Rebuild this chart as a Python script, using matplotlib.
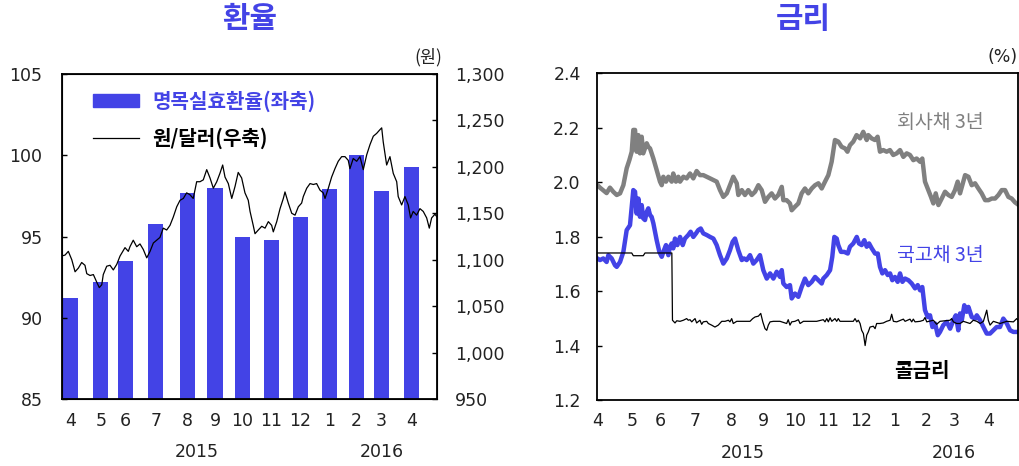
import numpy as np
import matplotlib
matplotlib.use("Agg")
import matplotlib.pyplot as plt
from matplotlib.patches import Patch
from matplotlib.lines import Line2D
from matplotlib.transforms import blended_transform_factory

plt.rcParams['font.family'] = ['Noto Sans CJK KR', 'DejaVu Sans']

BLUE = '#4343E6'
GREY = '#808080'
TXT = '#222222'
NUM_FONT = 'DejaVu Sans'

# x axis counts trading days, 0 = first trading day of Apr 2015
month_days = [22, 18, 22, 23, 20, 20, 21, 21, 21, 20, 18, 22]
month_labels = ['4', '5', '6', '7', '8', '9', '10', '11', '12', '1', '2', '3', '4']
years = ['2015', '2016']
year_day = [92, 226]

# nominal effective exchange rate, monthly (left axis)
neer = [91.2, 92.2, 93.5, 95.8, 97.7, 98.0, 95.0, 94.8, 96.2, 97.9, 100.0, 97.8, 99.3]

# KRW/USD, daily (right axis)
usd_day = [-6.4, -4.0, -1.6, 0.9, 3.3, 5.7, 8.1, 10.5, 11.8, 14.2,
           16.6, 19.0, 20.9, 22.7, 23.8, 26.3, 28.7, 31.1, 33.6, 36.0,
           37.2, 39.6, 42.0, 43.2, 45.6, 48.1, 50.5, 52.9, 55.4, 57.8,
           60.2, 62.6, 65.0, 67.4, 69.9, 72.3, 74.7, 77.2, 79.6, 82.0,
           84.4, 86.8, 89.2, 91.7, 94.1, 96.5, 99.0, 101.4, 103.8, 106.3,
           108.6, 110.6, 112.3, 114.7, 117.2, 119.6, 121.9, 124.4, 126.8, 129.2,
           130.5, 132.8, 134.1, 136.5, 139.0, 141.4, 143.8, 146.2, 147.4, 149.9,
           152.3, 154.7, 155.9, 158.3, 160.8, 163.2, 165.6, 168.0, 169.2, 171.7,
           174.1, 176.5, 178.9, 181.3, 183.7, 185.0, 187.4, 189.8, 192.2, 194.6,
           197.1, 199.5, 201.9, 203.1, 205.5, 208.0, 210.4, 212.8, 215.3, 217.7,
           220.1, 222.5, 224.9, 226.2, 227.3, 229.8, 232.2, 234.6, 237.1, 238.2,
           240.7, 243.1, 245.5, 247.2, 249.1, 251.6, 254.0, 256.4, 258.9, 260.8,
           262.5, 264.9, 266.4]
usd_krw = [1104, 1105, 1109, 1100, 1087, 1091, 1097, 1094, 1085, 1083,
           1084, 1076, 1070, 1073, 1084, 1093, 1094, 1089, 1095, 1104,
           1107, 1113, 1109, 1114, 1121, 1114, 1117, 1111, 1102, 1109,
           1118, 1121, 1124, 1134, 1132, 1137, 1146, 1157, 1164, 1166,
           1172, 1170, 1166, 1184, 1184, 1186, 1197, 1188, 1177, 1184,
           1193, 1202, 1189, 1182, 1166, 1179, 1194, 1188, 1172, 1164,
           1152, 1137, 1128, 1132, 1136, 1134, 1141, 1137, 1130, 1141,
           1155, 1166, 1173, 1161, 1150, 1148, 1157, 1161, 1168, 1177,
           1182, 1181, 1182, 1175, 1172, 1166, 1177, 1189, 1198, 1206,
           1211, 1211, 1207, 1198, 1209, 1206, 1211, 1197, 1213, 1224,
           1233, 1236, 1240, 1242, 1227, 1202, 1211, 1193, 1184, 1168,
           1159, 1168, 1159, 1145, 1152, 1148, 1155, 1152, 1145, 1134,
           1145, 1149, 1146]

# corporate bond 3y
corp_day = [0, 1.7, 3.8, 5.9, 8.0, 10.1, 12.3, 14.4, 16.5, 18.6,
            20.3, 21.8, 22.8, 23.9, 24.9, 26.0, 27.0, 28.1, 29.1, 30.2,
            31.3, 32.3, 33.4, 35.5, 37.6, 39.7, 40.8, 41.8, 43.5, 45.0,
            47.1, 48.1, 49.8, 51.3, 52.4, 54.5, 56.6, 58.7, 60.8, 62.9,
            65.0, 67.1, 69.3, 71.4, 73.5, 75.6, 77.7, 79.8, 82.0, 84.0,
            86.1, 88.3, 89.3, 91.5, 93.5, 95.6, 97.8, 99.9, 102.0, 104.1,
            106.2, 108.3, 110.4, 112.5, 114.6, 116.8, 117.8, 119.9, 122.0, 123.1,
            125.2, 127.3, 129.4, 131.5, 133.6, 135.8, 137.9, 140.0, 142.1, 144.2,
            146.3, 148.4, 150.5, 152.6, 154.7, 156.9, 158.4, 160.0, 162.1, 164.2,
            166.4, 168.4, 170.6, 171.6, 173.7, 175.8, 177.5, 179.0, 181.1, 183.2,
            185.3, 187.4, 189.6, 191.7, 193.8, 195.9, 198.0, 200.1, 202.2, 204.4,
            205.8, 207.5, 209.6, 211.3, 212.8, 214.3, 216.0, 218.1, 220.2, 222.3,
            224.4, 226.5, 228.2, 229.7, 231.8, 232.9, 235.0, 237.1, 239.2, 241.3,
            243.4, 245.6, 247.7, 249.8, 251.9, 254.0, 256.1, 258.2, 260.3, 262.4,
            264.5, 266.4]
corp = [1.990, 1.980, 1.970, 1.960, 1.980, 1.965, 1.953, 1.959, 1.989, 2.051,
        2.081, 2.112, 2.192, 2.192, 2.112, 2.173, 2.106, 2.167, 2.106, 2.124,
        2.143, 2.130, 2.124, 2.087, 2.044, 2.002, 1.989, 2.020, 2.002, 2.020,
        2.002, 2.032, 2.002, 2.020, 2.002, 2.020, 2.014, 2.032, 2.014, 2.041,
        2.026, 2.026, 2.020, 2.014, 2.008, 2.002, 1.971, 1.946, 1.959, 1.989,
        2.020, 1.996, 1.953, 1.971, 1.953, 1.971, 1.953, 1.965, 1.989, 1.971,
        1.928, 1.946, 1.959, 1.940, 1.953, 1.983, 1.934, 1.934, 1.922, 1.897,
        1.910, 1.922, 1.959, 1.977, 1.959, 1.977, 1.989, 1.996, 1.977, 2.002,
        2.026, 2.075, 2.155, 2.149, 2.130, 2.124, 2.112, 2.136, 2.149, 2.173,
        2.161, 2.185, 2.155, 2.173, 2.161, 2.155, 2.167, 2.112, 2.118, 2.112,
        2.118, 2.100, 2.106, 2.118, 2.093, 2.106, 2.100, 2.081, 2.087, 2.075,
        2.087, 2.002, 1.971, 1.946, 1.922, 1.959, 1.916, 1.940, 1.965, 1.953,
        1.946, 1.971, 2.002, 1.959, 2.002, 2.026, 2.020, 1.989, 1.996, 1.977,
        1.959, 1.934, 1.934, 1.940, 1.940, 1.953, 1.971, 1.971, 1.946, 1.940,
        1.926, 1.918]

# treasury bond 3y
ktb_day = [0, 1.7, 3.8, 5.9, 7.0, 9.1, 11.2, 12.3, 14.4, 16.5,
           18.6, 20.7, 21.8, 22.8, 23.9, 24.9, 26.0, 27.0, 28.1, 29.1,
           30.2, 31.3, 32.3, 33.4, 34.4, 35.5, 37.6, 39.3, 40.8, 42.2,
           43.5, 45.0, 46.0, 47.1, 48.1, 49.2, 50.7, 52.4, 54.1, 55.5,
           57.6, 59.1, 60.8, 62.5, 63.9, 65.5, 67.1, 69.3, 71.4, 73.5,
           75.6, 77.7, 79.8, 82.0, 84.0, 85.7, 87.2, 89.3, 91.5, 92.9,
           94.6, 96.7, 98.8, 100.9, 103.0, 105.1, 107.3, 109.4, 111.5, 113.6,
           115.7, 116.8, 117.8, 119.9, 122.0, 123.1, 125.2, 127.3, 129.4, 131.5,
           133.6, 135.8, 137.9, 140.0, 142.1, 143.1, 145.3, 147.4, 148.8, 150.1,
           151.6, 152.6, 154.3, 156.4, 158.6, 160.0, 162.1, 164.3, 165.7, 167.4,
           169.1, 170.6, 172.1, 173.8, 175.9, 177.6, 179.0, 180.5, 182.2, 183.9,
           185.4, 186.8, 188.5, 190.2, 191.7, 193.2, 194.9, 197.0, 199.1, 201.2,
           202.9, 204.4, 205.8, 207.5, 209.2, 210.7, 212.2, 213.9, 215.6, 217.0,
           219.1, 221.3, 223.4, 225.5, 227.0, 228.6, 229.7, 230.8, 232.4, 233.9,
           235.0, 237.1, 239.2, 240.3, 242.4, 244.5, 246.6, 248.7, 250.8, 252.9,
           255.0, 257.1, 259.3, 261.4, 263.5, 266.4]
ktb = [1.720, 1.714, 1.720, 1.707, 1.732, 1.720, 1.695, 1.689, 1.707, 1.744,
       1.824, 1.842, 1.910, 1.971, 1.965, 1.885, 1.940, 1.873, 1.916, 1.867,
       1.861, 1.891, 1.904, 1.879, 1.873, 1.849, 1.787, 1.744, 1.726, 1.750,
       1.769, 1.732, 1.763, 1.775, 1.757, 1.793, 1.769, 1.799, 1.769, 1.793,
       1.806, 1.818, 1.799, 1.812, 1.824, 1.830, 1.812, 1.806, 1.799, 1.793,
       1.769, 1.732, 1.701, 1.720, 1.750, 1.781, 1.793, 1.750, 1.714, 1.720,
       1.714, 1.732, 1.701, 1.714, 1.732, 1.677, 1.646, 1.665, 1.646, 1.671,
       1.652, 1.677, 1.628, 1.615, 1.622, 1.573, 1.591, 1.579, 1.615, 1.646,
       1.622, 1.634, 1.652, 1.640, 1.628, 1.646, 1.659, 1.677, 1.726, 1.799,
       1.793, 1.769, 1.744, 1.744, 1.738, 1.763, 1.775, 1.799, 1.775, 1.769,
       1.787, 1.763, 1.775, 1.757, 1.738, 1.738, 1.689, 1.665, 1.677, 1.659,
       1.665, 1.640, 1.652, 1.634, 1.665, 1.634, 1.646, 1.640, 1.628, 1.610,
       1.622, 1.603, 1.615, 1.530, 1.505, 1.511, 1.468, 1.481, 1.438, 1.450,
       1.475, 1.487, 1.462, 1.493, 1.511, 1.456, 1.518, 1.493, 1.548, 1.524,
       1.542, 1.505, 1.499, 1.511, 1.493, 1.468, 1.444, 1.444, 1.456, 1.468,
       1.468, 1.499, 1.481, 1.456, 1.450, 1.450]

# call rate
call_day = [0, 21.8, 22.8, 29.1, 30.2, 47.2, 47.6, 49.2, 50.3, 52.4,
            54.5, 56.6, 57.6, 58.7, 59.8, 60.8, 61.9, 62.9, 65.0, 66.1,
            67.1, 69.3, 70.3, 72.4, 74.5, 76.6, 78.8, 80.9, 83.0, 84.0,
            85.1, 86.1, 88.3, 96.7, 98.4, 99.9, 102.0, 103.5, 104.8, 106.2,
            107.3, 108.3, 109.4, 111.5, 115.7, 119.9, 120.9, 122.0, 123.1, 125.2,
            127.3, 128.4, 130.5, 138.9, 143.1, 144.2, 145.3, 146.3, 147.4, 148.5,
            150.5, 151.6, 152.6, 153.7, 162.1, 163.2, 164.3, 165.3, 166.4, 167.4,
            168.5, 169.6, 170.6, 171.6, 172.7, 174.8, 175.9, 176.9, 179.0, 181.1,
            183.2, 185.4, 186.4, 187.5, 189.6, 193.8, 194.9, 198.0, 199.1, 200.1,
            201.2, 204.4, 206.5, 207.5, 208.6, 212.8, 214.9, 217.0, 223.4, 224.4,
            225.5, 227.6, 229.7, 231.8, 236.0, 238.1, 240.3, 242.4, 244.5, 246.6,
            247.6, 248.7, 250.8, 255.0, 259.3, 263.5, 265.6, 266.4]
call = [1.740, 1.740, 1.730, 1.730, 1.740, 1.740, 1.493, 1.483, 1.491, 1.489,
        1.493, 1.499, 1.493, 1.495, 1.487, 1.493, 1.499, 1.483, 1.493, 1.478,
        1.487, 1.489, 1.481, 1.475, 1.468, 1.475, 1.489, 1.489, 1.493, 1.487,
        1.499, 1.481, 1.489, 1.489, 1.499, 1.505, 1.508, 1.518, 1.487, 1.462,
        1.456, 1.475, 1.487, 1.489, 1.489, 1.481, 1.495, 1.475, 1.487, 1.489,
        1.495, 1.481, 1.489, 1.489, 1.495, 1.487, 1.499, 1.487, 1.502, 1.489,
        1.499, 1.489, 1.499, 1.489, 1.489, 1.499, 1.487, 1.493, 1.481, 1.456,
        1.444, 1.400, 1.438, 1.450, 1.468, 1.471, 1.462, 1.481, 1.481, 1.483,
        1.489, 1.493, 1.515, 1.489, 1.487, 1.497, 1.489, 1.497, 1.487, 1.497,
        1.487, 1.489, 1.493, 1.503, 1.487, 1.493, 1.478, 1.489, 1.493, 1.499,
        1.487, 1.481, 1.481, 1.489, 1.481, 1.493, 1.489, 1.481, 1.489, 1.530,
        1.493, 1.475, 1.489, 1.481, 1.489, 1.487, 1.499, 1.493]

month_start = np.concatenate([[0], np.cumsum(month_days)])
X_END = 266.4


def style_axes(ax, xmin):
    ax.set_xlim(xmin, X_END)
    ax.set_xticks(month_start)
    ax.set_xticklabels(month_labels)
    ax.tick_params(axis='x', length=0, pad=9, labelsize=12.5, labelcolor=TXT,
                   labelfontfamily=NUM_FONT)
    ax.tick_params(axis='y', direction='in', length=3.6, width=1,
                   labelsize=12.5, labelcolor=TXT, pad=14,
                   labelfontfamily=NUM_FONT)
    for sp in ax.spines.values():
        sp.set_linewidth(1.3)
    tr = blended_transform_factory(ax.transData, ax.transAxes)
    for yr, d in zip(years, year_day):
        ax.text(d, -0.163, yr, transform=tr, ha='center', va='center',
                fontsize=12.5, color=TXT, family=NUM_FONT)


fig = plt.figure(figsize=(10.2, 4.66), dpi=100)

# ---- exchange rate panel ----
ax1 = fig.add_axes([62 / 1020, 67 / 466, 375 / 1020, 325 / 466])
ax1.bar(month_start, neer, width=11, color=BLUE)
ax1.set_ylim(85, 105)
ax1.set_yticks([85, 90, 95, 100, 105])
style_axes(ax1, -6.2)

ax2 = ax1.twinx()
ax2.plot(usd_day, usd_krw, color='black', lw=0.9)
ax2.set_ylim(950, 1300)
ax2.set_yticks(range(950, 1301, 50))
ax2.set_yticklabels([f'{v:,}' for v in range(950, 1301, 50)])
ax2.tick_params(axis='y', direction='in', length=3.6, width=1,
                labelsize=12.5, labelcolor=TXT, pad=13, labelfontfamily=NUM_FONT)

leg = ax2.legend(handles=[Patch(color=BLUE), Line2D([], [], color='black', lw=0.9)],
                 labels=['명목실효환율(좌축)', '원/달러(우축)'],
                 loc='upper left', bbox_to_anchor=(0.083, 0.95), frameon=False,
                 borderaxespad=0, borderpad=0, handlelength=2.3, handleheight=0.55,
                 handletextpad=0.65, labelspacing=0.75,
                 prop={'weight': 'bold', 'size': 14.5})
leg.get_texts()[0].set_color(BLUE)

fig.text(250 / 1020, 1 - 19 / 466, '환율', ha='center', va='center',
         fontsize=21.5, fontweight='bold', color=BLUE)
fig.text(428 / 1020, 1 - 57 / 466, '(원)', ha='center', va='center',
         fontsize=12.5, color=TXT)

# ---- interest rate panel ----
ax3 = fig.add_axes([597.3 / 1020, 66 / 466, 420.7 / 1020, 326.7 / 466])
ax3.plot(corp_day, corp, color=GREY, lw=3.2, solid_joinstyle='round')
ax3.plot(ktb_day, ktb, color=BLUE, lw=3.2, solid_joinstyle='round')
ax3.plot(call_day, call, color='black', lw=0.9)
ax3.set_ylim(1.2, 2.4)
ax3.set_yticks(np.arange(1.2, 2.41, 0.2))
ax3.set_yticklabels([f'{v:.1f}' for v in np.arange(1.2, 2.41, 0.2)])
style_axes(ax3, 0)
ax3.tick_params(axis='y', pad=12)

ax3.text(217, 2.221, '회사채 3년', ha='center', va='center', fontsize=14, color=GREY)
ax3.text(217, 1.732, '국고채 3년', ha='center', va='center', fontsize=14, color=BLUE)
ax3.text(205.3, 1.307, '콜금리', ha='center', va='center', fontsize=14.5,
         fontweight='bold', color='black')

fig.text(803 / 1020, 1 - 19 / 466, '금리', ha='center', va='center',
         fontsize=21.5, fontweight='bold', color=BLUE)
fig.text(1003 / 1020, 1 - 57 / 466, '(%)', ha='center', va='center',
         fontsize=12.5, color=TXT, family=NUM_FONT)

fig.savefig('out.png', dpi=100)
